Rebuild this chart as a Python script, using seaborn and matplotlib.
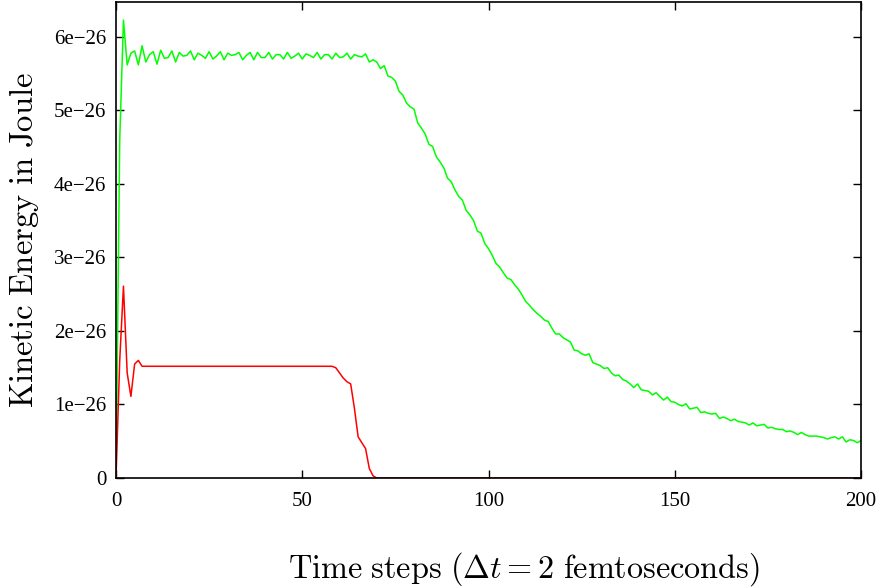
import matplotlib
matplotlib.use("Agg")
import matplotlib.pyplot as plt
from matplotlib.ticker import FuncFormatter, FixedLocator
import seaborn as sns
import pandas as pd

# ---- data (kinetic energy in units of 1e-26 J) ----
green_steps = list(range(0, 201))
green_ke = [
    0.00, 4.60, 6.23, 5.62, 5.78, 5.81, 5.62, 5.88, 5.66, 5.76,
    5.80, 5.63, 5.82, 5.71, 5.72, 5.81, 5.66, 5.79, 5.74, 5.75,
    5.81, 5.69, 5.78, 5.75, 5.71, 5.80, 5.70, 5.74, 5.80, 5.69,
    5.78, 5.75, 5.76, 5.79, 5.69, 5.75, 5.79, 5.69, 5.79, 5.72,
    5.72, 5.79, 5.70, 5.76, 5.76, 5.70, 5.79, 5.71, 5.74, 5.78,
    5.70, 5.77, 5.75, 5.72, 5.79, 5.70, 5.76, 5.76, 5.70, 5.78,
    5.72, 5.73, 5.78, 5.70, 5.76, 5.74, 5.73, 5.77, 5.66, 5.69,
    5.66, 5.57, 5.61, 5.47, 5.45, 5.40, 5.26, 5.21, 5.10, 5.05,
    5.02, 4.83, 4.76, 4.68, 4.54, 4.51, 4.37, 4.30, 4.22, 4.08,
    4.03, 3.92, 3.83, 3.78, 3.64, 3.58, 3.50, 3.36, 3.33, 3.19,
    3.12, 3.03, 2.92, 2.87, 2.79, 2.72, 2.70, 2.63, 2.57, 2.49,
    2.40, 2.35, 2.29, 2.24, 2.20, 2.15, 2.13, 2.04, 1.96, 1.96,
    1.91, 1.88, 1.85, 1.74, 1.73, 1.69, 1.67, 1.69, 1.57, 1.55,
    1.53, 1.49, 1.50, 1.43, 1.39, 1.40, 1.34, 1.32, 1.28, 1.23,
    1.28, 1.20, 1.19, 1.18, 1.13, 1.16, 1.11, 1.06, 1.10, 1.04,
    1.03, 1.00, 0.98, 1.01, 0.94, 0.95, 0.96, 0.89, 0.90, 0.88,
    0.87, 0.88, 0.81, 0.83, 0.81, 0.78, 0.80, 0.77, 0.76, 0.75,
    0.72, 0.75, 0.71, 0.72, 0.73, 0.68, 0.69, 0.67, 0.66, 0.66,
    0.63, 0.64, 0.62, 0.59, 0.62, 0.59, 0.57, 0.57, 0.57, 0.56,
    0.55, 0.53, 0.55, 0.56, 0.53, 0.56, 0.49, 0.52, 0.51, 0.48,
    0.51,
]

red_steps = [0, 1, 2, 3, 4, 5, 6, 7, 58, 59, 60, 61, 62, 63, 64, 65, 66,
             67, 68, 69, 70, 200]
red_ke = [0.00, 1.60, 2.61, 1.43, 1.11, 1.55, 1.60, 1.52, 1.52, 1.50, 1.43,
          1.36, 1.31, 1.28, 0.95, 0.56, 0.48, 0.40, 0.13, 0.03, 0.00, 0.00]

y_ticks = [0, 1, 2, 3, 4, 5, 6]
x_ticks = [0, 50, 100, 150, 200]

df = pd.concat([
    pd.DataFrame({"step": green_steps, "ke": green_ke, "series": "green"}),
    pd.DataFrame({"step": red_steps, "ke": red_ke, "series": "red"}),
], ignore_index=True)

sns.set_theme(style="ticks")
plt.rcParams["font.family"] = ["Liberation Serif", "DejaVu Serif"]
plt.rcParams["mathtext.fontset"] = "cm"

fig = plt.figure(figsize=(8.83, 5.88), dpi=100)
ax = fig.add_axes([116 / 883, 1 - 478 / 588, 745 / 883, 476 / 588])

sns.lineplot(data=df, x="step", y="ke", hue="series",
             palette={"green": "#00ff00", "red": "#ff0000"},
             estimator=None, linewidth=1.1, legend=False, ax=ax)

ax.set_xlim(0, 200)
ax.set_ylim(0, 6.476)
ax.xaxis.set_major_locator(FixedLocator(x_ticks))
ax.yaxis.set_major_locator(FixedLocator(y_ticks))
ax.yaxis.set_major_formatter(
    FuncFormatter(lambda v, p: "0" if v == 0 else f"{int(round(v))}e\u221226"))
ax.xaxis.set_major_formatter(FuncFormatter(lambda v, p: f"{int(round(v))}"))

for s in ax.spines.values():
    s.set_visible(True)
    s.set_color("black")
    s.set_linewidth(1.2)

ax.tick_params(axis="both", which="major", direction="in", length=6,
               width=1.0, color="black", labelsize=15, labelcolor="black",
               top=True, right=True)
ax.tick_params(axis="y", pad=7)
ax.tick_params(axis="x", pad=10)

ax.set_xlabel(r"$\mathrm{Time\ steps\ }(\Delta t = 2\ \mathrm{femtoseconds})$",
              fontsize=23.2, color="black")
ax.set_ylabel(r"$\mathrm{Kinetic\ Energy\ in\ Joule}$", fontsize=23.5,
              color="black")
ax.xaxis.set_label_coords((523.5 - 116) / 745, (478 - 550) / 476)
ax.yaxis.set_label_coords((41 - 116) / 745, (478 - 240) / 476)

fig.savefig("out.png", dpi=100)
